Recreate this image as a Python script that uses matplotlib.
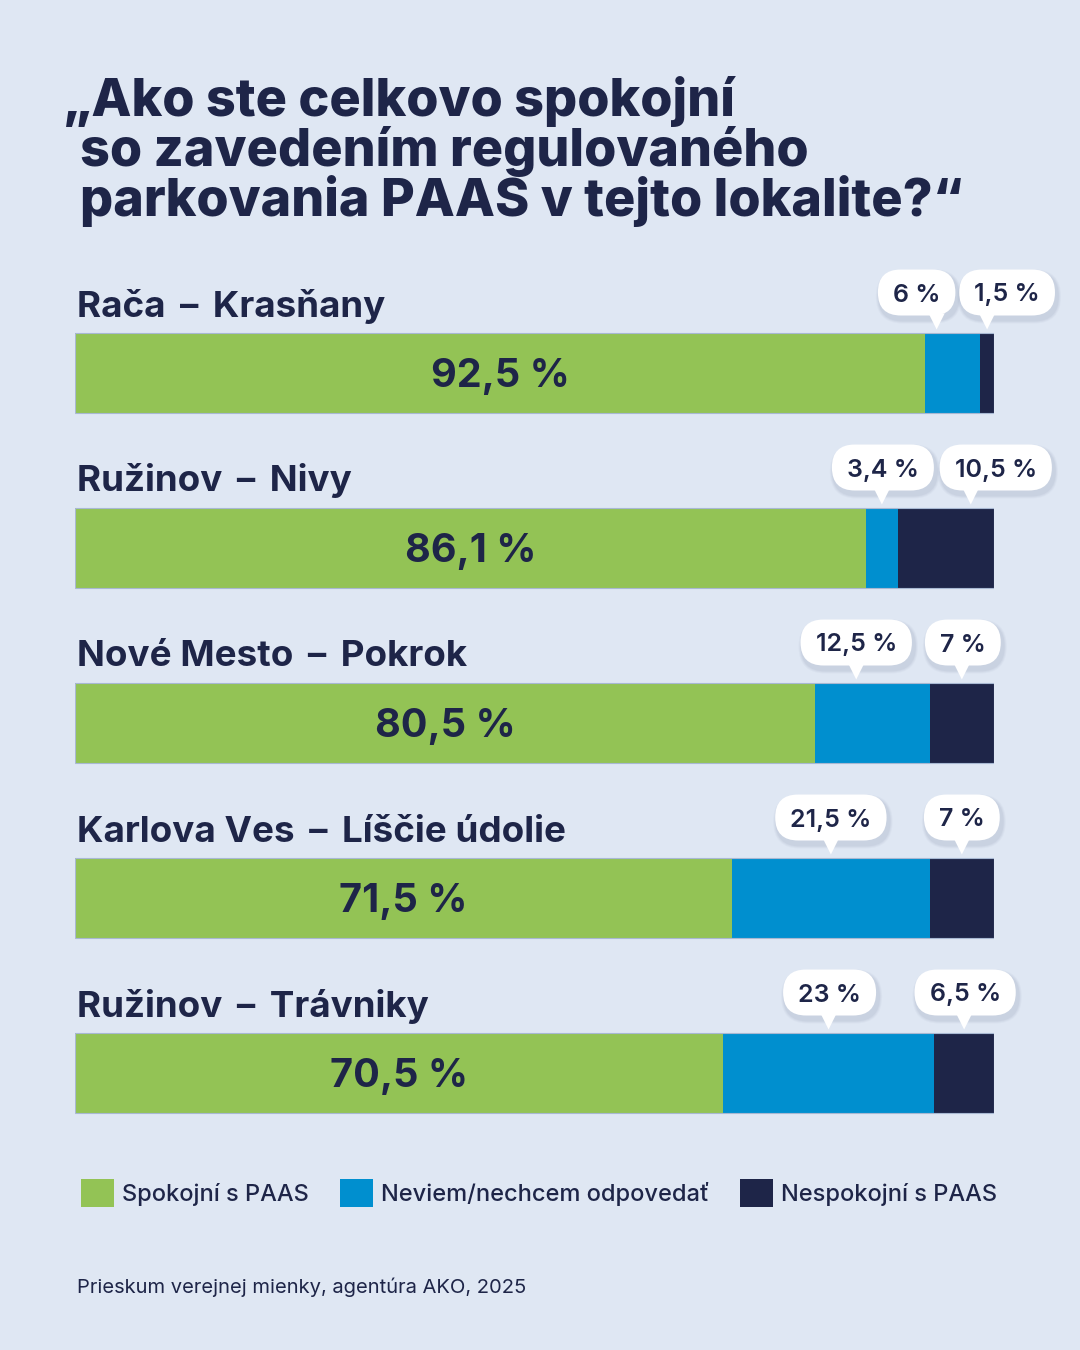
import matplotlib
matplotlib.use("Agg")
import matplotlib.pyplot as plt
from matplotlib.patches import FancyBboxPatch, Polygon, Patch

# survey results (percent)
locations = ["Rača – Krasňany", "Ružinov – Nivy", "Nové Mesto – Pokrok",
             "Karlova Ves – Líščie údolie", "Ružinov – Trávniky"]
satisfied = [92.5, 86.1, 80.5, 71.5, 70.5]
dont_know = [6, 3.4, 12.5, 21.5, 23]
unsatisfied = [1.5, 10.5, 7, 7, 6.5]
series_names = ["Spokojní s PAAS", "Neviem/nechcem odpovedať", "Nespokojní s PAAS"]

title_lines = ["„Ako ste celkovo spokojní", "so zavedením regulovaného",
               "parkovania PAAS v tejto lokalite?“"]
source = "Prieskum verejnej mienky, agentúra AKO, 2025"

# bubble nudges in pixels (pointer shift, bubble shift from pointer)
ptr_nudge = [(-16, 0), (0, 25), (-16, 0), (0, 0), (0, 0)]
box_nudge = [(-20, 20), (1, 25), (0, 1), (0, 0), (1, 1)]

BG = "#DFE7F3"
GREEN = "#93C355"
BLUE = "#008FCF"
NAVY = "#1E2548"
FONT = "Inter"

def fmt(v):
    s = f"{v:g}".replace(".", ",")
    return s + " %"

fig = plt.figure(figsize=(10.8, 13.5), dpi=100, facecolor=BG)
ax = fig.add_axes([75 / 1080, 190 / 1350, 919 / 1080, 875 / 1350])
ax.set_xlim(0, 100)
ax.set_ylim(4.5, -0.5)
ax.axis("off")

rows = list(range(len(locations)))
bar_h = 80 / 175
left2 = [a for a in satisfied]
left3 = [a + b for a, b in zip(satisfied, dont_know)]
ax.barh(rows, satisfied, height=bar_h, color=GREEN, linewidth=0)
ax.barh(rows, dont_know, left=left2, height=bar_h, color=BLUE, linewidth=0)
ax.barh(rows, unsatisfied, left=left3, height=bar_h, color=NAVY, linewidth=0)
ax.barh(rows, [a + b + c for a, b, c in zip(satisfied, dont_know, unsatisfied)],
        height=bar_h, fill=False, edgecolor="#A8B8D2", linewidth=0.8)

for i, v in enumerate(satisfied):
    ax.text(v / 2, i, fmt(v), ha="center", va="center_baseline", color=NAVY,
            fontsize=28.5, fontweight="bold", family=FONT)

# overlay in pixel coordinates for texts and bubbles
ov = fig.add_axes([0, 0, 1, 1])
ov.set_xlim(0, 1080)
ov.set_ylim(1350, 0)
ov.axis("off")

def to_px(x, y):
    dx, dy = ax.transData.transform((x, y))
    return dx, 1350 - dy

for k, line in enumerate(title_lines):
    ov.text(63 if k == 0 else 80, 116 + 50 * k, line, fontsize=37.5, fontweight=800,
            family=FONT, color=NAVY, va="baseline")

renderer = fig.canvas.get_renderer()

def bubble(px, tip_y, bx, label):
    h = 46
    by = tip_y - 14 - h / 2
    t = ov.text(bx, by, label, ha="center", va="center_baseline", fontsize=18,
                fontweight=600, family=FONT, color=NAVY, zorder=5)
    w = t.get_window_extent(renderer).width + 30
    for off, a in [(4, 0.06), (3, 0.08), (2, 0.10)]:
        ov.add_patch(FancyBboxPatch((bx - w / 2 - off + 2, by - h / 2 - off + 4), w + 2 * off, h + 2 * off,
                                    boxstyle=f"round,pad=0,rounding_size={h / 2 + off}",
                                    fc="#8290AD", ec="none", alpha=a, zorder=3))
    ov.add_patch(FancyBboxPatch((bx - w / 2, by - h / 2), w, h,
                                boxstyle=f"round,pad=0,rounding_size={h / 2}",
                                fc="white", ec="none", zorder=4))
    ov.add_patch(Polygon([(px - 8, by + h / 2 - 2), (px + 8, by + h / 2 - 2), (px, tip_y)],
                         closed=True, fc="white", ec="none", zorder=4))

for i, name in enumerate(locations):
    x0, top = to_px(0, i - bar_h / 2)
    ov.text(x0 + 2, top - 16, name.replace(" – ", " \u2009–\u2009 "), fontsize=26.5,
            fontweight="bold", family=FONT, color=NAVY, va="baseline")
    c2 = to_px(left2[i] + dont_know[i] / 2, i)[0] + ptr_nudge[i][0]
    c3 = to_px(left3[i] + unsatisfied[i] / 2, i)[0] + ptr_nudge[i][1]
    bubble(c2, top - 3, c2 + box_nudge[i][0], fmt(dont_know[i]))
    bubble(c3, top - 3, c3 + box_nudge[i][1], fmt(unsatisfied[i]))

handles = [Patch(fc=c, ec="none") for c in (GREEN, BLUE, NAVY)]
leg = fig.legend(handles, series_names, loc="center left",
                 bbox_to_anchor=(81 / 1080, 1 - 1193 / 1350), ncol=3, frameon=False,
                 borderpad=0, borderaxespad=0, handlelength=1.4, handleheight=1.4,
                 handletextpad=0.35, columnspacing=1.3,
                 prop={"family": FONT, "size": 17, "weight": 500})
for t in leg.get_texts():
    t.set_color(NAVY)

ov.text(77, 1293, source, fontsize=14.5, family=FONT, color=NAVY, va="baseline")

fig.savefig("out.png", dpi=100, facecolor=BG)
